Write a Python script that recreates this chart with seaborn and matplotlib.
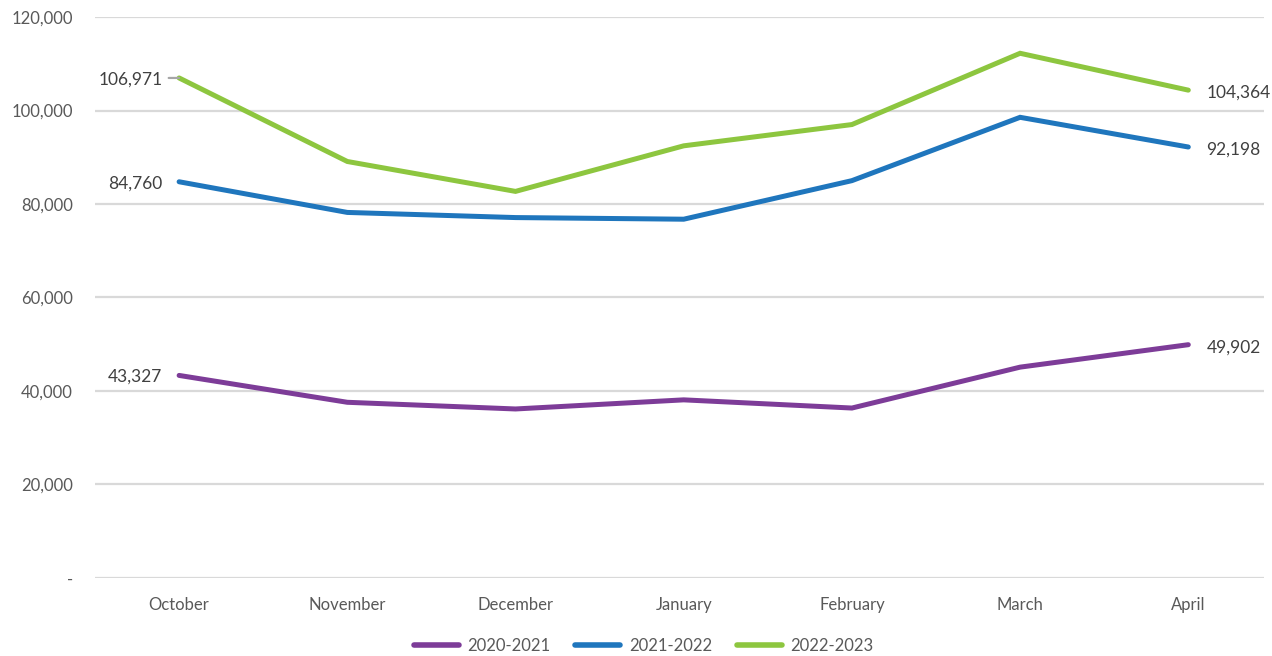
import matplotlib
matplotlib.use("Agg")
import matplotlib.pyplot as plt
import seaborn as sns
import pandas as pd
from matplotlib.ticker import FuncFormatter

# Monthly totals per season
months = ["October", "November", "December", "January", "February", "March", "April"]
seasons = ["2020-2021", "2021-2022", "2022-2023"]
s2020 = [43327, 37580, 36150, 38100, 36350, 45100, 49902]
s2021 = [84760, 78200, 77100, 76750, 85000, 98550, 92198]
s2022 = [106971, 89100, 82700, 92450, 97000, 112250, 104364]
colors = ["#7D3C98", "#1F76BD", "#8DC63F"]

rows = []
for season, vals in zip(seasons, [s2020, s2021, s2022]):
    for i, (m, v) in enumerate(zip(months, vals)):
        rows.append({"month": m, "idx": i, "season": season, "value": v})
df = pd.DataFrame(rows)

sns.set_style("white")
plt.rcParams["font.family"] = ["Lato", "DejaVu Sans"]

fig = plt.figure(figsize=(12.72, 6.56), dpi=100)
ax = fig.add_axes([0.0747, 0.119, 0.919, 0.855])

sns.lineplot(data=df, x="idx", y="value", hue="season", hue_order=seasons,
             palette=colors, linewidth=3.6, ax=ax, legend=True,
             solid_capstyle="round", solid_joinstyle="miter")

ax.set_xlim(-0.5, 6.45)
ax.set_ylim(0, 120000)
ax.set_yticks(range(0, 120001, 20000))
ax.yaxis.set_major_formatter(FuncFormatter(lambda v, p: "-" if v == 0 else f"{int(v):,}"))
ax.set_xticks(range(len(months)))
ax.set_xticklabels(months)
ax.grid(axis="y", color="#D9D9D9", linewidth=1.6)
ax.set_axisbelow(True)
for sp in ax.spines.values():
    sp.set_visible(False)
ax.tick_params(axis="both", length=0, labelsize=12, colors="#595959")
ax.tick_params(axis="x", pad=14)
ax.tick_params(axis="y", pad=16)
ax.set_xlabel("")
ax.set_ylabel("")

# End-point value labels
label_color = "#404040"
for vals in [s2020, s2021, s2022]:
    ax.annotate(f"{vals[0]:,}", xy=(0, vals[0]), xytext=(-12, -1),
                textcoords="offset points", ha="right", va="center",
                fontsize=12.5, color=label_color)
    ax.annotate(f"{vals[-1]:,}", xy=(6, vals[-1]), xytext=(13, -2),
                textcoords="offset points", ha="left", va="center",
                fontsize=12.5, color=label_color)
# leader line for the top-left label
ax.annotate("", xy=(0, s2022[0]), xytext=(-7.5, 0), textcoords="offset points",
            arrowprops=dict(arrowstyle="-", color="#A6A6A6", lw=1.6,
                            shrinkA=0, shrinkB=0))

handles, labels = ax.get_legend_handles_labels()
ax.get_legend().remove()
leg = fig.legend(handles, labels, loc="center", bbox_to_anchor=(0.506, 0.016),
                 ncol=3, frameon=False, fontsize=12, handlelength=2.7,
                 columnspacing=1.5, handletextpad=0.5)
for t in leg.get_texts():
    t.set_color("#595959")
for h in leg.get_lines():
    h.set_linewidth(4)

fig.savefig("out.png", dpi=100)
